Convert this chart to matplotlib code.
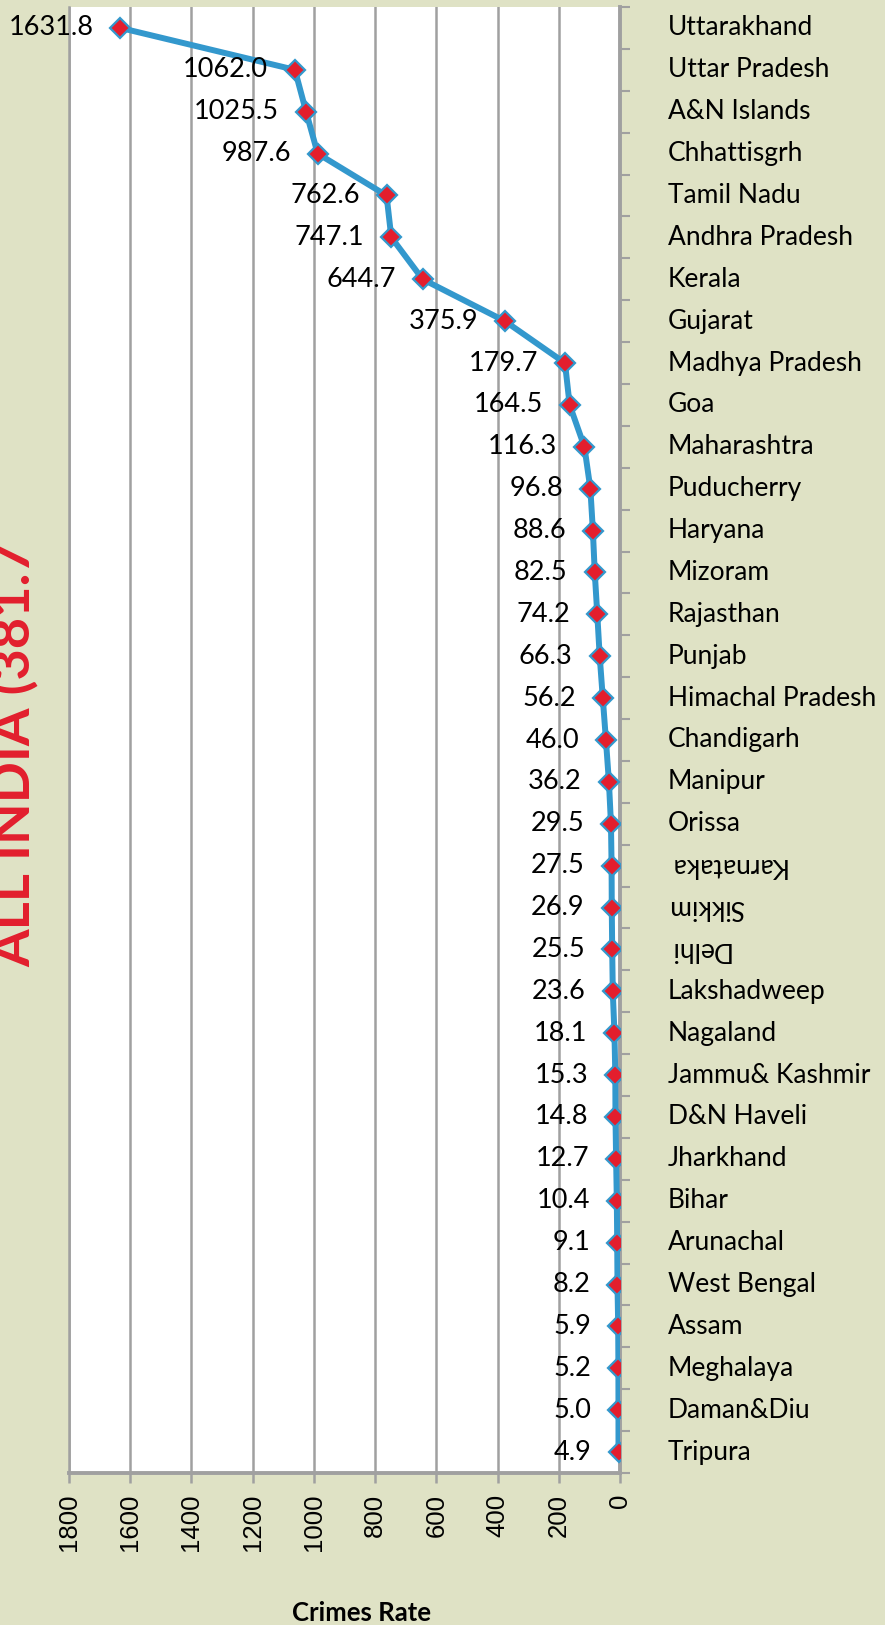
import matplotlib.pyplot as plt
from matplotlib.ticker import FixedLocator, NullFormatter
import numpy as np

# state-wise crime rate, top to bottom as in the chart
states = ['Uttarakhand', 'Uttar Pradesh', 'A&N Islands', 'Chhattisgrh', 'Tamil Nadu',
          'Andhra Pradesh', 'Kerala', 'Gujarat', 'Madhya Pradesh', 'Goa',
          'Maharashtra', 'Puducherry', 'Haryana', 'Mizoram', 'Rajasthan',
          'Punjab', 'Himachal Pradesh', 'Chandigarh', 'Manipur', 'Orissa',
          'Karnataka', 'Sikkim', 'Delhi', 'Lakshadweep', 'Nagaland',
          'Jammu& Kashmir', 'D&N Haveli', 'Jharkhand', 'Bihar', 'Arunachal',
          'West Bengal', 'Assam', 'Meghalaya', 'Daman&Diu', 'Tripura']
rates = [1631.8, 1062.0, 1025.5, 987.6, 762.6,
         747.1, 644.7, 375.9, 179.7, 164.5,
         116.3, 96.8, 88.6, 82.5, 74.2,
         66.3, 56.2, 46.0, 36.2, 29.5,
         27.5, 26.9, 25.5, 23.6, 18.1,
         15.3, 14.8, 12.7, 10.4, 9.1,
         8.2, 5.9, 5.2, 5.0, 4.9]
x_ticks = [0, 200, 400, 600, 800, 1000, 1200, 1400, 1600, 1800]
all_india = 'ALL INDIA (381.7'
flipped = {'Karnataka', 'Sikkim', 'Delhi'}

BG = '#dfe2c5'
GRAY = '#a0a0a0'
BLUE = '#3398cd'
RED = '#e31e2d'

plt.rcParams['font.family'] = ['Lato', 'DejaVu Sans']

fig = plt.figure(figsize=(8.85, 16.25), dpi=100, facecolor=BG)
ax = fig.add_axes([69/885, 1 - 1473/1625, 551/885, 1466/1625])
ax.set_facecolor('white')

pos = np.arange(len(states))
ax.plot(rates, pos, color=BLUE, lw=4.3, zorder=3, solid_joinstyle='round')
ax.plot(rates, pos, ls='none', marker='D', ms=10, mfc=RED, mec=BLUE, mew=1.6, zorder=4)

for v, y in zip(rates, pos):
    ax.annotate('%.1f' % v, (v, y), xytext=(-27, 0), textcoords='offset pixels',
                ha='right', va='center', fontsize=19.5, color='black')

for name, y in zip(states, pos):
    ax.annotate(name, (1, y), xycoords=('axes fraction', 'data'),
                xytext=(48, 0), textcoords='offset pixels',
                ha='left', va='center', fontsize=19, color='black',
                rotation=180 if name in flipped else 0, annotation_clip=False)

ax.set_xlim(1800, 0)
ax.set_ylim(len(states) - 0.5, -0.5)
ax.set_xticks(x_ticks)
ax.set_xticklabels([str(t) for t in x_ticks], rotation=90, family='Liberation Sans', fontsize=18.5)
ax.grid(axis='x', color=GRAY, lw=1.8)
ax.set_axisbelow(True)

ax.yaxis.set_major_locator(FixedLocator(np.arange(-0.5, len(states), 1.0)))
ax.yaxis.set_major_formatter(NullFormatter())
ax.yaxis.tick_right()
ax.tick_params(axis='y', direction='out', length=7, width=1.5, color=GRAY)
ax.tick_params(axis='x', direction='out', length=7, width=1.8, color=GRAY, pad=8)

ax.spines['top'].set_visible(False)
ax.spines['left'].set_color(GRAY)
ax.spines['left'].set_linewidth(1.8)
ax.spines['right'].set_color(GRAY)
ax.spines['right'].set_linewidth(2.8)
ax.spines['bottom'].set_color(GRAY)
ax.spines['bottom'].set_linewidth(2.8)

fig.text(361/885, 1 - 1613/1625, 'Crimes Rate', ha='center', va='center',
         fontsize=18.5, fontweight='bold')
fig.text(30/885, 1 - 967/1625, all_india, rotation=90, rotation_mode='anchor',
         ha='left', va='baseline', fontsize=39, fontweight='bold', color=RED)

fig.savefig('out.png', dpi=100, facecolor=BG)
